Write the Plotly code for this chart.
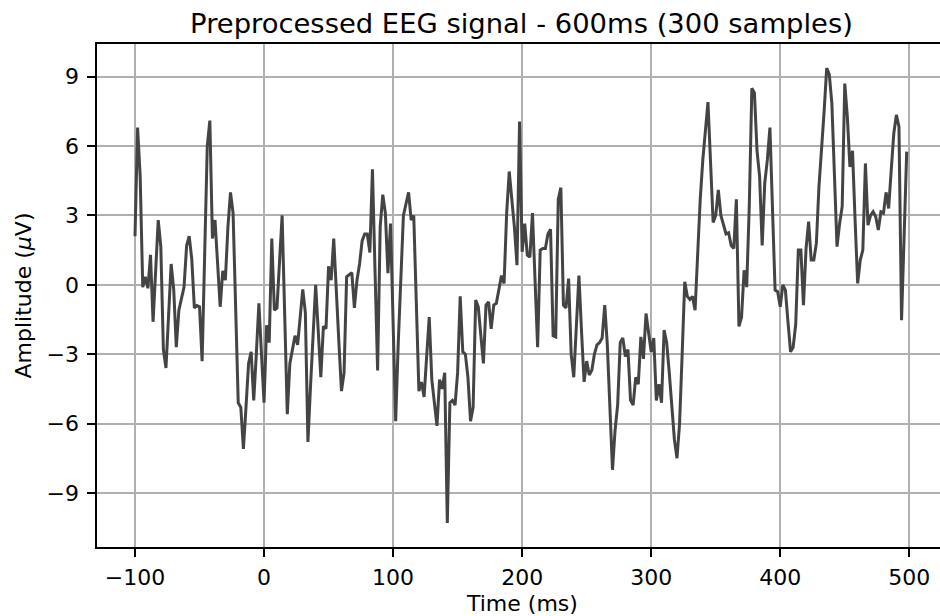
import plotly.graph_objects as go

# Sample times (ms): 300 samples at 2 ms spacing, -100 .. 498
time_ms = list(range(-100, 500, 2))

# Amplitude values (µV)
amplitude_uv = [
    2.1, 6.8, 4.7, -0.1, 0.35, -0.15, 1.3, -1.6, 0.6, 2.8,
    1.65, -2.8, -3.6, -1.3, 0.9, -0.2, -2.7, -1.1, -0.6, -0.1,
    1.7, 2.1, 1.1, -1.0, -0.9, -0.95, -3.3, 1.5, 6.0, 7.1,
    2.0, 2.8, 1.0, -0.95, 0.6, 0.2, 2.5, 4.0, 3.1, -1.0,
    -5.1, -5.3, -7.1, -5.3, -3.4, -2.9, -5.0, -3.0, -0.8, -3.0,
    -5.1, -1.75, -2.5, 2.0, -1.1, -1.0, 1.0, 3.0, -1.3, -5.6,
    -3.4, -2.8, -2.2, -2.6, -1.4, -0.2, -1.2, -6.8, -4.4, -2.2,
    0.0, -2.0, -4.0, -1.8, -1.9, 0.8, 0.2, 2.0, 0.0, -2.5,
    -4.6, -3.8, 0.35, 0.45, 0.53, -1.0, 0.2, 0.9, 1.9, 2.2,
    2.2, 1.4, 5.0, 0.6, -3.7, 2.5, 3.9, 3.1, 0.5, 2.65,
    -1.5, -5.9, -2.5, 0.3, 3.0, 3.5, 4.0, 2.8, 3.0, -0.8,
    -4.6, -4.2, -4.85, -3.1, -1.4, -4.1, -5.1, -6.1, -4.1, -4.5,
    -3.8, -10.3, -5.1, -5.0, -5.2, -3.8, -0.5, -2.9, -3.0, -4.0,
    -5.9, -5.3, -0.66, -0.95, -2.2, -3.4, -0.88, -0.74, -1.9, -0.88,
    -0.8, -0.2, 0.4, 0.06, 3.1, 4.9, 3.8, 2.5, 0.85, 7.06,
    1.43, 2.65, 1.28, 1.2, 3.1, 0.2, -2.7, 1.5, 1.57, 1.57,
    2.2, 2.4, -2.2, -2.25, 3.7, 4.2, -0.88, -1.0, 0.27, -3.0,
    -4.0, -1.8, 0.4, -2.0, -4.2, -3.3, -3.9, -3.7, -3.0, -2.6,
    -2.5, -2.3, -0.88, -2.6, -5.5, -8.0, -6.3, -5.2, -2.5, -2.3,
    -3.1, -2.8, -5.0, -5.2, -4.0, -4.3, -2.25, -3.2, -1.24, -2.1,
    -2.9, -2.3, -5.0, -4.3, -5.1, -1.96, -2.5, -3.8, -5.1, -6.7,
    -7.5, -6.0, -3.0, 0.13, -0.5, -0.63, -0.5, -1.1, 1.3, 3.7,
    5.4, 6.8, 7.9, 5.3, 2.7, 3.0, 4.1, 3.0, 2.6, 2.2,
    2.25, 1.7, 1.57, 3.7, -1.8, -1.4, 0.63, -0.1, 3.4, 8.5,
    8.3, 5.8, 4.7, 1.7, 4.4, 5.4, 6.8, 3.3, -0.23, -0.3,
    -0.95, 0.0, -0.23, -1.6, -2.9, -2.7, -1.7, 1.5, 1.5, -0.88,
    1.57, 2.73, 1.07, 1.07, 1.8, 4.24, 5.7, 7.5, 9.37, 9.1,
    7.85, 4.8, 1.65, 2.65, 3.38, 8.7, 7.27, 5.1, 5.8, 2.8,
    0.06, 1.07, 1.5, 5.25, 2.58, 3.0, 3.16, 2.94, 2.37, 3.16,
    3.1, 4.0, 3.3, 4.96, 6.55, 7.35, 6.84, -1.53, 2.1, 5.76,
]

x_ticks = [-100, 0, 100, 200, 300, 400, 500]
y_ticks = [-9, -6, -3, 0, 3, 6, 9]

title_text = "Preprocessed EEG signal - 600ms (300 samples)"
x_label = "Time (ms)"
y_label = "Amplitude (<i>μ</i>V)"

FONT = "DejaVu Sans"

fig = go.Figure()
fig.add_trace(go.Scatter(
    x=time_ms, y=amplitude_uv, mode="lines",
    line=dict(color="#444444", width=3),
    showlegend=False, hoverinfo="skip",
))

axis_common = dict(
    showgrid=True, gridcolor="#b0b0b0", gridwidth=1.7,
    showline=True, linecolor="black", linewidth=1.75,
    ticks="outside", ticklen=7.7, tickwidth=1.75, tickcolor="black",
    tickfont=dict(family=FONT, size=22, color="black"),
    zeroline=False, tickmode="array",
)

fig.update_layout(
    width=940, height=616,
    margin=dict(l=97, r=0, t=44, b=69, pad=0),
    paper_bgcolor="white", plot_bgcolor="white",
    font=dict(family=FONT, color="black"),
    title=dict(text=title_text, font=dict(family=FONT, size=27.4, color="black"),
               xref="container", x=521.5 / 940, xanchor="center",
               yref="container", y=1 - 23 / 616, yanchor="middle"),
    xaxis=dict(range=[-129.45, 523.8], tickvals=x_ticks, mirror=True,
               ticklabelstandoff=2, **axis_common),
    yaxis=dict(range=[-11.34, 10.415], tickvals=y_ticks, mirror=False,
               ticklabelstandoff=4, **axis_common),
    annotations=[
        dict(text=x_label, xref="paper", yref="paper",
             x=(521.5 - 97) / 843, y=-(603 - 547) / 503,
             xanchor="center", yanchor="middle", showarrow=False,
             font=dict(family=FONT, size=22, color="black")),
        dict(text=y_label, xref="paper", yref="paper",
             x=(23 - 97) / 843, y=0.5, textangle=-90,
             xanchor="center", yanchor="middle", showarrow=False,
             font=dict(family=FONT, size=22, color="black")),
    ],
)

fig.write_html("out.html")
